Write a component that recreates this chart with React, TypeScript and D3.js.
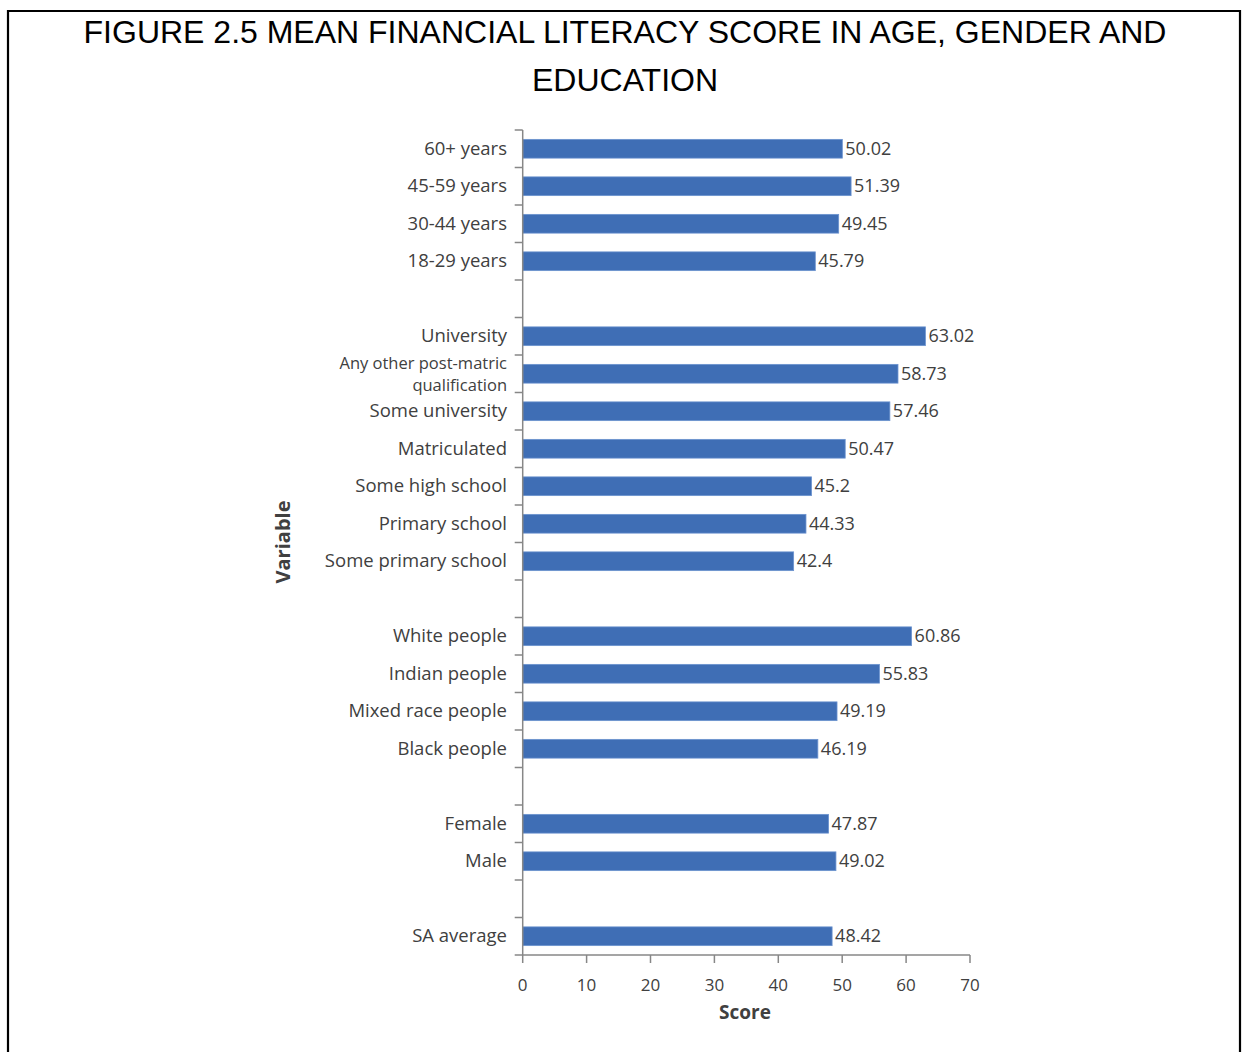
import React from "react";
import * as d3 from "d3";

const categories: string[] = [
  "60+ years", "45-59 years", "30-44 years", "18-29 years", "",
  "University", "Any other post-matric|qualification", "Some university", "Matriculated",
  "Some high school", "Primary school", "Some primary school", " ",
  "White people", "Indian people", "Mixed race people", "Black people", "  ",
  "Female", "Male", "   ", "SA average",
];
const values: (number | null)[] = [
  50.02, 51.39, 49.45, 45.79, null,
  63.02, 58.73, 57.46, 50.47, 45.2, 44.33, 42.4, null,
  60.86, 55.83, 49.19, 46.19, null,
  47.87, 49.02, null, 48.42,
];
const xTicks: number[] = [0, 10, 20, 30, 40, 50, 60, 70];
const titleLines: string[] = ["FIGURE 2.5 MEAN FINANCIAL LITERACY SCORE IN AGE, GENDER AND", "EDUCATION"];
const xTitle = "Score";
const yTitle = "Variable";

export default function App() {
  const left = 522.7, right = 970, top = 130, bottom = 955;
  const x = d3.scaleLinear().domain([0, 70]).range([left, right]);
  const y = d3.scaleBand().domain(categories).range([top, bottom]).paddingInner(0.5).paddingOuter(0.25);
  const slot = (bottom - top) / categories.length;
  const font = "'Open Sans', Lato, sans-serif";
  const txt = "#404040";
  const axisCol = "#878787";
  const bounds = d3.range(categories.length + 1).map((i) => top + i * slot);
  const lineGap = 22.5;
  return (
    <svg width={1248} height={1052} style={{ position: "absolute", left: 0, top: 0, background: "#fff" }}>
      <path d="M8,1060 V11 H1240 V1060" fill="none" stroke="#000" strokeWidth={2.2} />
      {titleLines.map((t, i) => (
        <text key={i} x={625} y={43 + i * 48} textAnchor="middle" fontFamily="Arial, 'Liberation Sans', sans-serif" fontSize={32} fill="#000">{t}</text>
      ))}
      {categories.map((c, i) => {
        const v = values[i];
        const cy = (y(c) as number) + y.bandwidth() / 2;
        const lines = c.trim() === "" ? [] : c.split("|");
        return (
          <g key={i}>
            {v !== null && (
              <rect x={x(0)} y={y(c)} width={x(v) - x(0)} height={y.bandwidth()} fill="#3F6EB5" stroke="#6C93CF" strokeWidth={0.8} />
            )}
            {v !== null && (
              <text x={x(v) + 3} y={cy + 6} fontFamily={font} fontSize={18} fill={txt}>{String(v)}</text>
            )}
            {lines.map((l, j) => (
              <text key={j} x={507} y={cy + 6 + (j - (lines.length - 1) / 2) * lineGap} textAnchor="end" fontFamily={font} fontSize={lines.length > 1 ? 16.5 : 18.5} fill={txt}>{l}</text>
            ))}
          </g>
        );
      })}
      <line x1={left} x2={left} y1={top} y2={bottom} stroke={axisCol} strokeWidth={1.5} />
      {bounds.map((b, i) => (
        <line key={i} x1={left - 8} x2={left} y1={b} y2={b} stroke={axisCol} strokeWidth={1.5} />
      ))}
      <line x1={left} x2={right} y1={bottom} y2={bottom} stroke={axisCol} strokeWidth={1.5} />
      {xTicks.map((t) => (
        <g key={t}>
          <line x1={x(t)} x2={x(t)} y1={bottom} y2={bottom + 8} stroke={axisCol} strokeWidth={1.5} />
          <text x={x(t)} y={991} textAnchor="middle" fontFamily={font} fontSize={17} fill={txt}>{t}</text>
        </g>
      ))}
      <text x={745} y={1019} textAnchor="middle" fontFamily={font} fontSize={19} fontWeight="bold" fill={txt}>{xTitle}</text>
      <text transform={`translate(290,542) rotate(-90)`} textAnchor="middle" fontFamily={font} fontSize={20} fontWeight="bold" fill={txt}>{yTitle}</text>
    </svg>
  );
}
